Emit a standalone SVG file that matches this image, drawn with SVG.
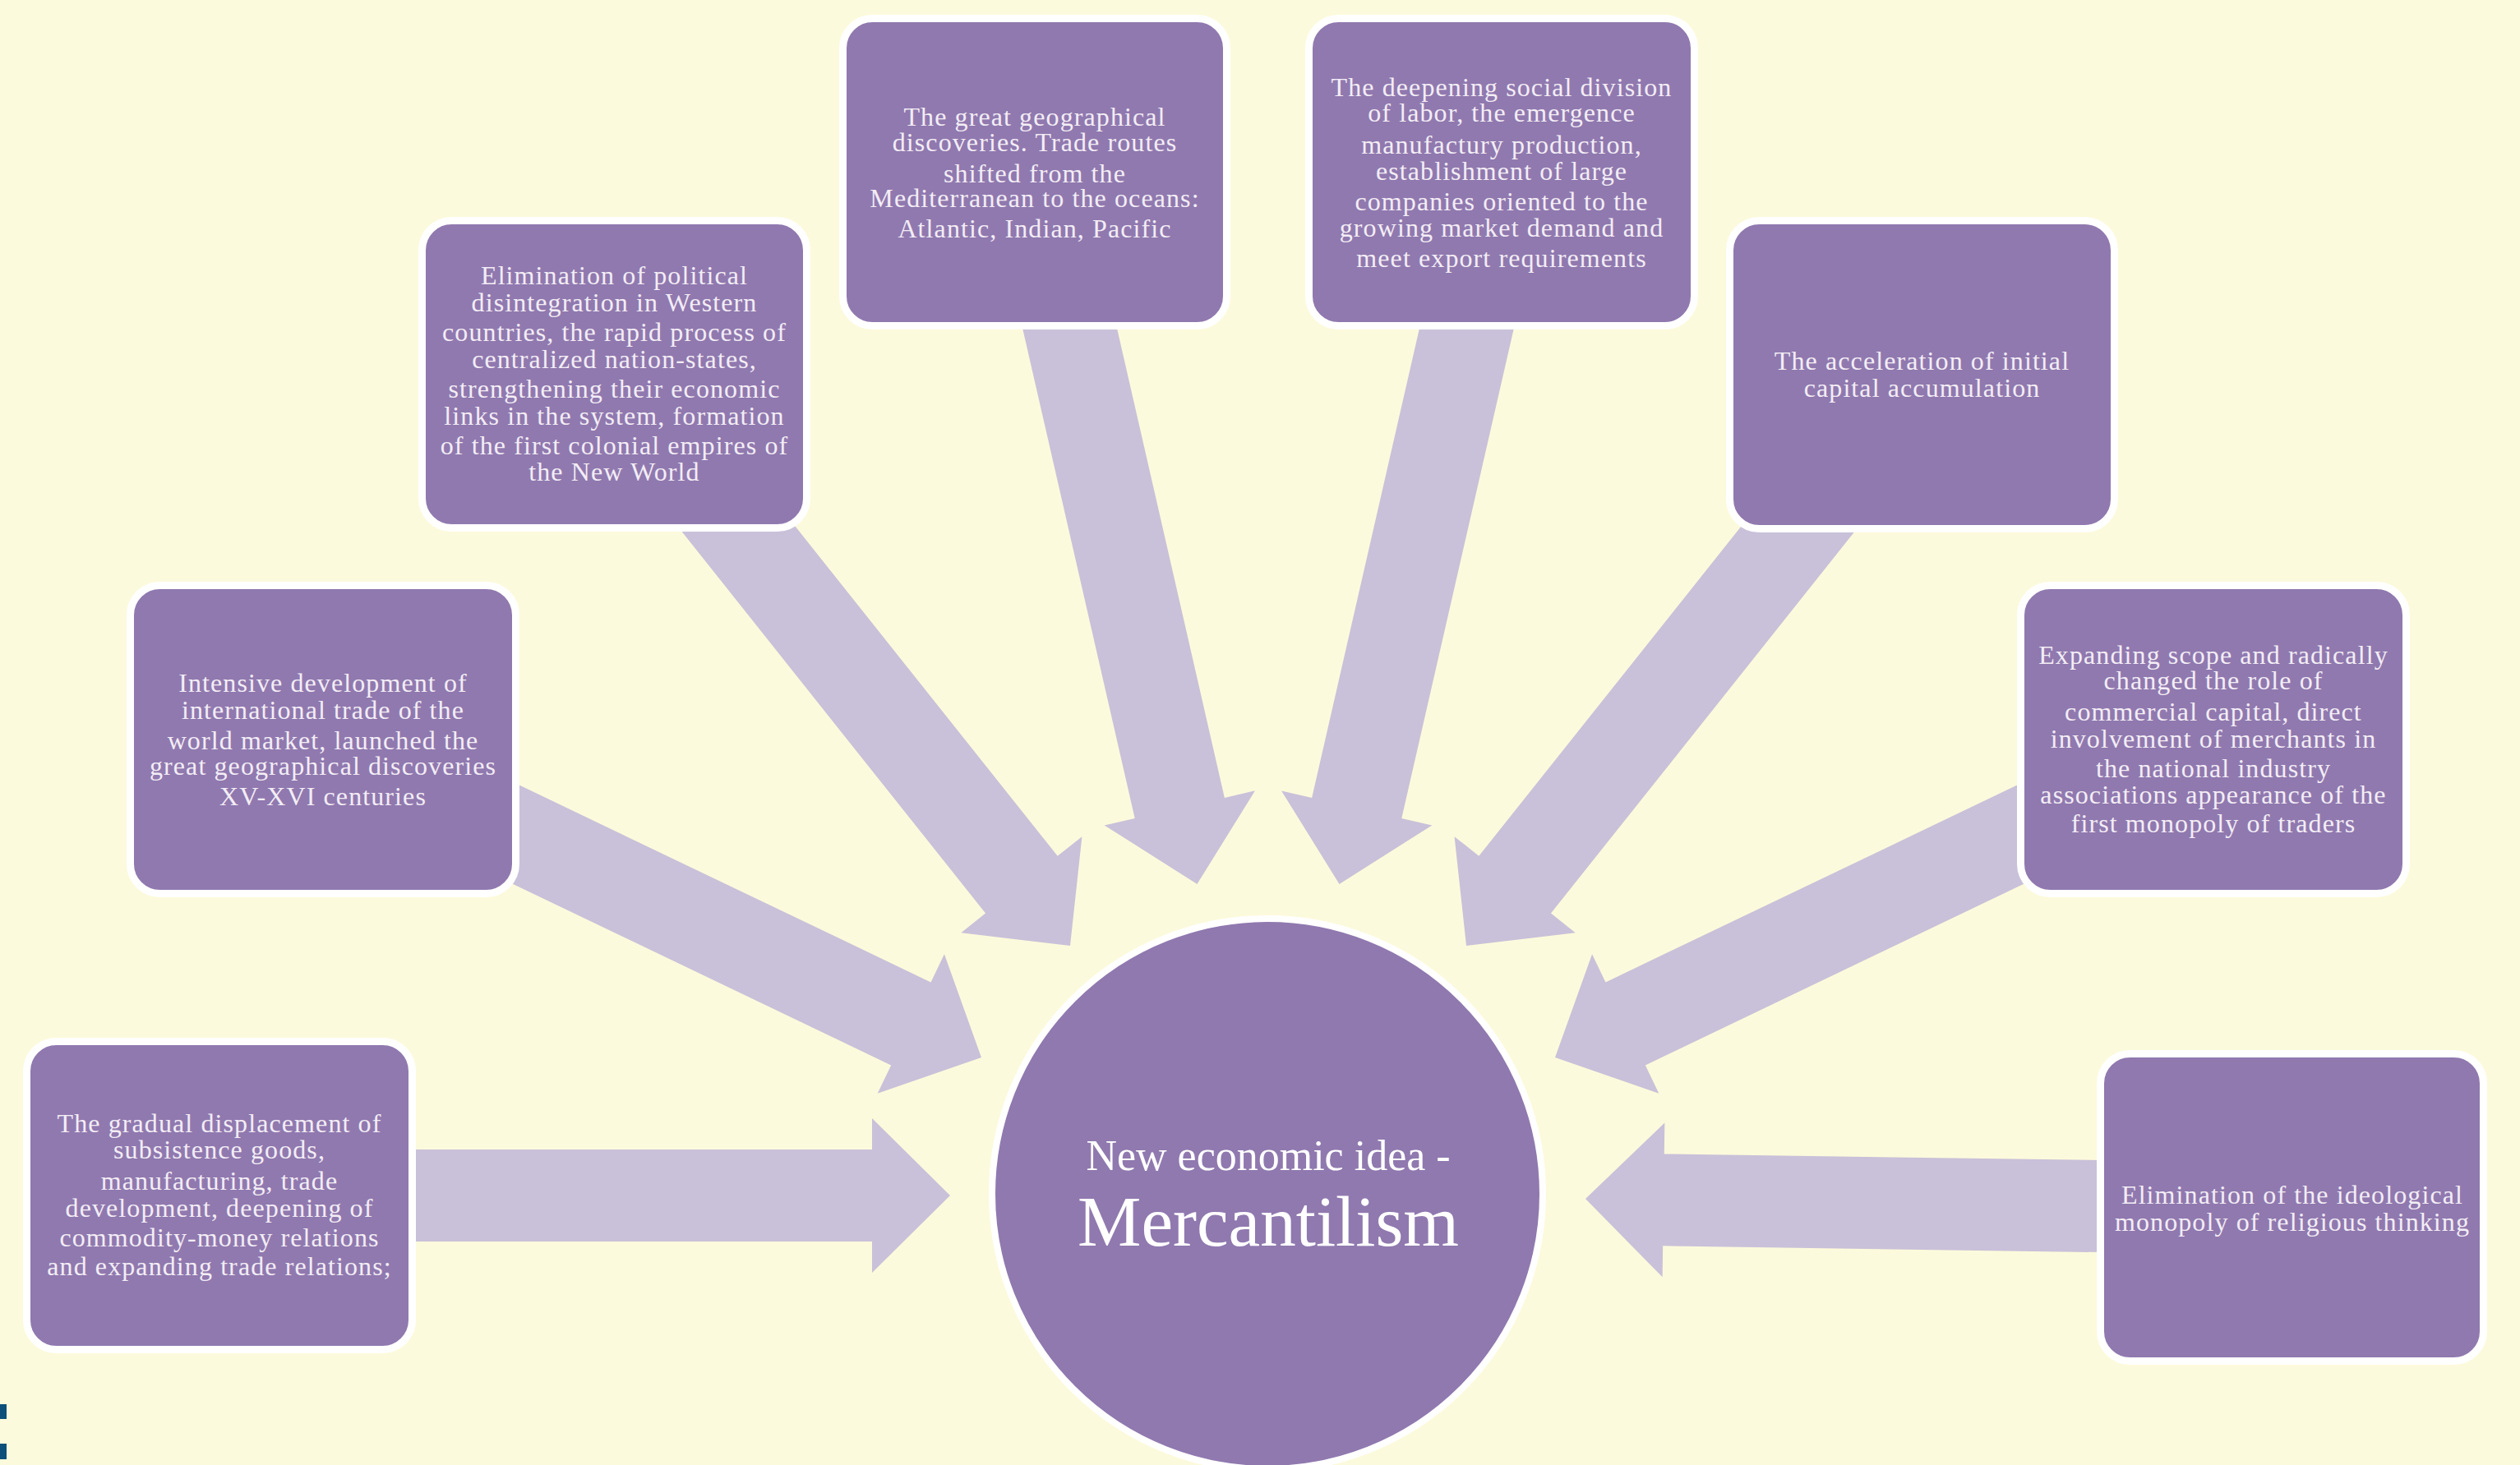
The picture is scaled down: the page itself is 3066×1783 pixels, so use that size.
<svg xmlns="http://www.w3.org/2000/svg" width="3066" height="1783" viewBox="0 0 3066 1783">
  <style>
    .bg { fill: #FCFADC; }
    .arrow { fill: #C9C1D9; }
    .box { fill: #9079AF; stroke: #FFFFFF; stroke-width: 9; }
    .hub { fill: #9079AF; stroke: #FFFFFF; stroke-width: 8; }
    .t { font-family: "Liberation Serif", "Times New Roman", serif; font-size: 32px; letter-spacing: 1.1px; fill: #F3EDF5; text-anchor: middle; }
    .h1 { font-family: "Liberation Serif", "Times New Roman", serif; font-size: 52px; fill: #FFFFFF; text-anchor: middle; }
    .h2 { font-family: "Liberation Serif", "Times New Roman", serif; font-size: 87px; fill: #FFFFFF; text-anchor: middle; }
    .mark { fill: #0B4F7A; }
  </style>
  <rect class="bg" x="0" y="0" width="3066" height="1783"/>

  <g id="connectors">
    <polygon id="a1" class="arrow" transform="translate(1156 1455) rotate(0)" points="-700,-56 -95,-56 -95,-94 0,0 -95,94 -95,56 -700,56"/>
    <polygon id="a2" class="arrow" transform="translate(1194 1287) rotate(25.6)" points="-690,-56 -95,-56 -95,-94 0,0 -95,94 -95,56 -690,56"/>
    <polygon id="a3" class="arrow" transform="translate(1302 1151) rotate(51.5)" points="-730,-56 -95,-56 -95,-94 0,0 -95,94 -95,56 -730,56"/>
    <polygon id="a4" class="arrow" transform="translate(1456.5 1076) rotate(77.1)" points="-740,-56 -95,-56 -95,-94 0,0 -95,94 -95,56 -740,56"/>
    <polygon id="a5" class="arrow" transform="translate(1629.5 1076) rotate(102.9)" points="-740,-56 -95,-56 -95,-94 0,0 -95,94 -95,56 -740,56"/>
    <polygon id="a6" class="arrow" transform="translate(1784 1151) rotate(128.5)" points="-730,-56 -95,-56 -95,-94 0,0 -95,94 -95,56 -730,56"/>
    <polygon id="a7" class="arrow" transform="translate(1892 1287) rotate(154.4)" points="-690,-56 -95,-56 -95,-94 0,0 -95,94 -95,56 -690,56"/>
    <polygon id="a8" class="arrow" transform="translate(1929 1459) rotate(180.83)" points="-680,-56 -95,-56 -95,-94 0,0 -95,94 -95,56 -680,56"/>
  </g>

  <g id="node1">
    <rect class="box" x="32.5" y="1267.5" width="469" height="375" rx="36"/>
    <text class="t" x="267" y="1378">The gradual displacement of</text>
    <text class="t" x="267" y="1410">subsistence goods,</text>
    <text class="t" x="267" y="1448">manufacturing, trade</text>
    <text class="t" x="267" y="1481">development, deepening of</text>
    <text class="t" x="267" y="1517">commodity-money relations</text>
    <text class="t" x="267" y="1552">and expanding trade relations;</text>
  </g>

  <g id="node2">
    <rect class="box" x="158.5" y="712.5" width="469" height="375" rx="36"/>
    <text class="t" x="393" y="842">Intensive development of</text>
    <text class="t" x="393" y="875">international trade of the</text>
    <text class="t" x="393" y="912">world market, launched the</text>
    <text class="t" x="393" y="943">great geographical discoveries</text>
    <text class="t" x="393" y="980">XV-XVI centuries</text>
  </g>

  <g id="node3">
    <rect class="box" x="513.5" y="268.5" width="468" height="374" rx="36"/>
    <text class="t" x="747.5" y="346">Elimination of political</text>
    <text class="t" x="747.5" y="379">disintegration in Western</text>
    <text class="t" x="747.5" y="415">countries, the rapid process of</text>
    <text class="t" x="747.5" y="448">centralized nation-states,</text>
    <text class="t" x="747.5" y="484">strengthening their economic</text>
    <text class="t" x="747.5" y="517">links in the system, formation</text>
    <text class="t" x="747.5" y="553">of the first colonial empires of</text>
    <text class="t" x="747.5" y="585">the New World</text>
  </g>

  <g id="node4">
    <rect class="box" x="1025.5" y="22.5" width="467" height="374" rx="36"/>
    <text class="t" x="1259" y="153">The great geographical</text>
    <text class="t" x="1259" y="184">discoveries. Trade routes</text>
    <text class="t" x="1259" y="222">shifted from the</text>
    <text class="t" x="1259" y="252">Mediterranean to the oceans:</text>
    <text class="t" x="1259" y="289">Atlantic, Indian, Pacific</text>
  </g>

  <g id="node5">
    <rect class="box" x="1592.5" y="22.5" width="469" height="374" rx="36"/>
    <text class="t" x="1827" y="117">The deepening social division</text>
    <text class="t" x="1827" y="148">of labor, the emergence</text>
    <text class="t" x="1827" y="187">manufactury production,</text>
    <text class="t" x="1827" y="219">establishment of large</text>
    <text class="t" x="1827" y="256">companies oriented to the</text>
    <text class="t" x="1827" y="288">growing market demand and</text>
    <text class="t" x="1827" y="325">meet export requirements</text>
  </g>

  <g id="node6">
    <rect class="box" x="2104.5" y="268.5" width="468" height="375" rx="36"/>
    <text class="t" x="2338.5" y="450">The acceleration of initial</text>
    <text class="t" x="2338.5" y="483">capital accumulation</text>
  </g>

  <g id="node7">
    <rect class="box" x="2458.5" y="712.5" width="469" height="375" rx="36"/>
    <text class="t" x="2693" y="808">Expanding scope and radically</text>
    <text class="t" x="2693" y="839">changed the role of</text>
    <text class="t" x="2693" y="877">commercial capital, direct</text>
    <text class="t" x="2693" y="910">involvement of merchants in</text>
    <text class="t" x="2693" y="946">the national industry</text>
    <text class="t" x="2693" y="978">associations appearance of the</text>
    <text class="t" x="2693" y="1013">first monopoly of traders</text>
  </g>

  <g id="node8">
    <rect class="box" x="2555.5" y="1282.5" width="466" height="374" rx="36"/>
    <text class="t" x="2789" y="1465">Elimination of the ideological</text>
    <text class="t" x="2789" y="1498">monopoly of religious thinking</text>
  </g>

  <g id="hub">
    <circle class="hub" cx="1542" cy="1453" r="335"/>
    <text class="h1" x="1543" y="1424">New economic idea -</text>
    <text class="h2" x="1543" y="1516">Mercantilism</text>
  </g>

  <rect class="mark" x="0" y="1709" width="8" height="18"/>
  <rect class="mark" x="0" y="1757" width="8" height="19"/>
</svg>
